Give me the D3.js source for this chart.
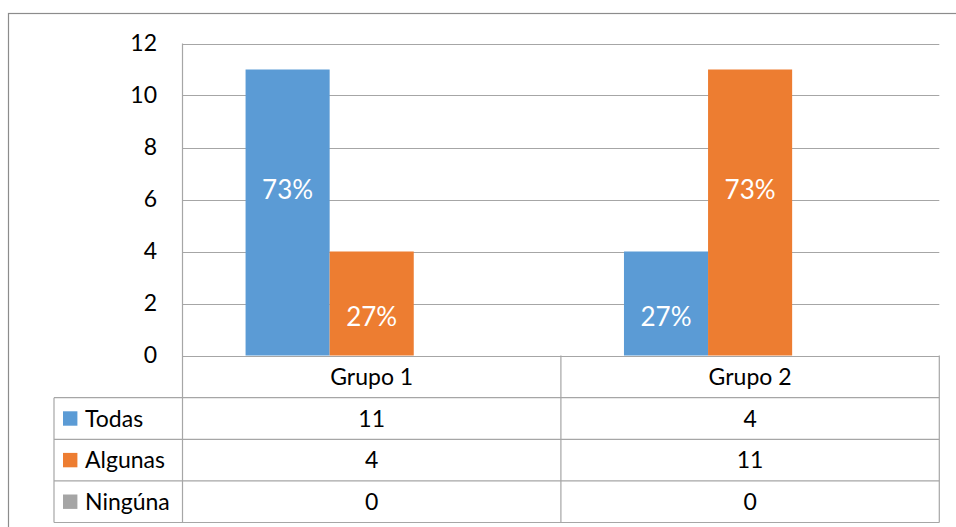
<!DOCTYPE html>
<html>
<head>
<meta charset="utf-8">
<script src="https://cdn.jsdelivr.net/npm/d3@7"></script>
<style>
  html, body { margin: 0; padding: 0; background: #fff; }
  svg { display: block; }
  text { font-family: Lato, "Open Sans", sans-serif; fill: #000; }
</style>
</head>
<body>
<svg id="chart" width="956" height="527"></svg>
<script>
// ---- data ----
const categories = ["Grupo 1", "Grupo 2"];
const seriesNames = ["Todas", "Algunas", "Ningúna"];
const todas = [11, 4];
const algunas = [4, 11];
const ninguna = [0, 0];
const yTicks = [0, 2, 4, 6, 8, 10, 12];
const seriesColors = ["#5B9BD5", "#ED7D31", "#A5A5A5"];

const seriesValues = [todas, algunas, ninguna];

// ---- layout ----
const svg = d3.select("#chart");
const plotLeft = 182.5, plotRight = 939.3, plotTop = 43.5, plotBottom = 355.5;
const tableLeft = 54, rowH = 41.6, headerBottom = 397.7;
const gridColor = "#A6A6A6";

// outer chart frame (extends past the image on the right/bottom)
svg.append("rect")
  .attr("x", 8.5).attr("y", 13.5)
  .attr("width", 1000).attr("height", 600)
  .attr("fill", "none").attr("stroke", "#8C8C8C").attr("stroke-width", 1.2);

const x0 = d3.scaleBand().domain(categories).range([plotLeft, plotRight]).padding(0);
const x1 = d3.scaleBand().domain(seriesNames).range([0, x0.bandwidth()])
  .paddingInner(0).paddingOuter(0.75);
const y = d3.scaleLinear().domain([0, 12]).range([plotBottom, plotTop]);

// gridlines
svg.append("g").selectAll("line").data(yTicks).join("line")
  .attr("x1", plotLeft).attr("x2", plotRight)
  .attr("y1", d => Math.round(y(d)) + 0.5).attr("y2", d => Math.round(y(d)) + 0.5)
  .attr("stroke", gridColor).attr("stroke-width", 1.2);

// y axis labels
const yAxis = d3.axisLeft(y).tickValues(yTicks).tickSize(0).tickPadding(0);
const gy = svg.append("g").attr("transform", "translate(157,0)").call(yAxis);
gy.select(".domain").remove();
gy.selectAll("text").attr("font-size", 23).attr("fill", "#000")
  .style("font-family", "Lato, sans-serif");

// bars
const barData = [];
categories.forEach((c, ci) => {
  const total = d3.sum(seriesValues, s => s[ci]);
  seriesNames.forEach((s, si) => {
    barData.push({ cat: c, ci, series: s, si, value: seriesValues[si][ci], total });
  });
});

svg.append("g").selectAll("rect").data(barData).join("rect")
  .attr("x", d => x0(d.cat) + x1(d.series))
  .attr("width", x1.bandwidth())
  .attr("y", d => y(d.value))
  .attr("height", d => y(0) - y(d.value))
  .attr("fill", d => seriesColors[d.si]);

// vertical axis line
svg.append("line")
  .attr("x1", plotLeft).attr("x2", plotLeft)
  .attr("y1", plotTop).attr("y2", headerBottom + rowH * 3)
  .attr("stroke", gridColor).attr("stroke-width", 1.2);

// percentage labels (placed where the original put them)
const pct = d3.format(".0%");
const labelFrac = v => (v >= 8 ? 0.58 : 0.37);
svg.append("g").selectAll("text").data(barData.filter(d => d.value > 0)).join("text")
  .attr("x", d => x0(d.cat) + x1(d.series) + x1.bandwidth() / 2)
  .attr("y", d => y(d.value * labelFrac(d.value)))
  .attr("dy", "0.36em")
  .attr("text-anchor", "middle")
  .attr("font-size", 26)
  .style("fill", "#fff")
  .text(d => pct(d.value / d.total));

// ---- data table ----
const tableBottom = headerBottom + rowH * seriesNames.length;
const tg = svg.append("g");
// horizontal row lines
d3.range(seriesNames.length + 1).forEach(i => {
  const yy = headerBottom + i * rowH;
  tg.append("line").attr("x1", tableLeft).attr("x2", plotRight)
    .attr("y1", yy).attr("y2", yy)
    .attr("stroke", gridColor).attr("stroke-width", 1.2);
});
// vertical lines
tg.append("line").attr("x1", tableLeft).attr("x2", tableLeft)
  .attr("y1", headerBottom).attr("y2", tableBottom)
  .attr("stroke", gridColor).attr("stroke-width", 1.2);
categories.forEach(c => {
  const xr = x0(c) + x0.bandwidth();
  tg.append("line").attr("x1", xr).attr("x2", xr)
    .attr("y1", plotBottom).attr("y2", tableBottom)
    .attr("stroke", gridColor).attr("stroke-width", 1.2);
});

// header (category names)
tg.selectAll("text.cat").data(categories).join("text").attr("class", "cat")
  .attr("x", d => x0(d) + x0.bandwidth() / 2)
  .attr("y", (plotBottom + headerBottom) / 2)
  .attr("dy", "0.36em").attr("text-anchor", "middle").attr("font-size", 23)
  .text(d => d);

// rows
seriesNames.forEach((s, si) => {
  const cy = headerBottom + si * rowH + rowH / 2;
  tg.append("rect").attr("x", 63).attr("y", cy - 7.2).attr("width", 14.4).attr("height", 14.4)
    .attr("fill", seriesColors[si]);
  tg.append("text").attr("x", 85).attr("y", cy).attr("dy", "0.36em")
    .attr("font-size", 23).text(s);
  categories.forEach((c, ci) => {
    tg.append("text").attr("x", x0(c) + x0.bandwidth() / 2).attr("y", cy)
      .attr("dy", "0.36em").attr("text-anchor", "middle").attr("font-size", 23)
      .text(seriesValues[si][ci]);
  });
});
</script>
</body>
</html>
